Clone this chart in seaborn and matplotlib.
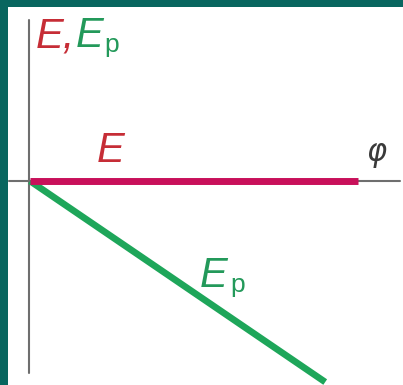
import matplotlib
matplotlib.use("Agg")
import matplotlib.pyplot as plt
import pandas as pd
import seaborn as sns

# ===== Данные =====
phi = [0.0, 1.0]          # фаза для полной энергии
E = [0.0, 0.0]            # полная энергия (константа)
phi_p = [0.0, 0.9]        # фаза для потенциальной энергии
Ep = [0.0, -0.613]        # потенциальная энергия

# ===== Стиль =====
TEAL = "#08665f"
RED = "#c62d36"
GREEN_TXT = "#23995a"
MAGENTA = "#c8105a"
GREEN = "#1ea65a"
GRAY = "#6e6e6e"

sns.set_theme(style="white")
plt.rcParams["font.family"] = ["Liberation Sans", "DejaVu Sans"]

fig = plt.figure(figsize=(4.03, 3.85), dpi=100, facecolor=TEAL)
ax = fig.add_axes([8 / 403, 0, 395 / 403, 378 / 385])
ax.set_facecolor("white")
for s in ax.spines.values():
    s.set_visible(False)
ax.set_xticks([])
ax.set_yticks([])
ax.set_xlim(-0.0671, 1.1372)
ax.set_ylim(-0.622, 0.5305)

# оси координат
ax.plot([-0.064, 1.128], [0, 0], color=GRAY, lw=1.5, zorder=1)
ax.plot([-0.003, -0.003], [0.491, -0.585], color=GRAY, lw=1.5, zorder=1)

df_e = pd.DataFrame({"phi": phi, "E": E})
df_p = pd.DataFrame({"phi": phi_p, "Ep": Ep})
sns.lineplot(data=df_e, x="phi", y="E", color=MAGENTA, lw=5, ax=ax,
             solid_capstyle="butt", zorder=3)
sns.lineplot(data=df_p, x="phi", y="Ep", color=GREEN, lw=4.8, ax=ax,
             solid_capstyle="butt", zorder=2)
ax.set_xlabel("")
ax.set_ylabel("")

# подписи
big = dict(fontsize=30, style="italic", va="baseline", ha="left")
small = dict(fontsize=19, va="baseline", ha="left")

ax.text(0.018, 0.408, "E,", color=RED, **big)
ax.text(0.138, 0.408, "E", color=GREEN_TXT, **big)
ax.text(0.228, 0.393, "p", color=GREEN_TXT, **small)

ax.text(0.203, 0.058, "E", color=RED, **big)

ax.text(1.025, 0.079, r"$\varphi$", color="#3a3a3a", fontsize=22,
        va="center", ha="left")

ax.text(0.518, -0.323, "E", color=GREEN_TXT, **big)
ax.text(0.612, -0.338, "p", color=GREEN_TXT, **small)

fig.savefig("out.png", dpi=100, facecolor=TEAL)
